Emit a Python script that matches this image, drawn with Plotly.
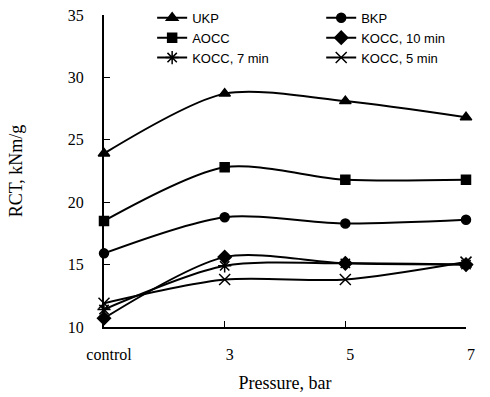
import plotly.graph_objects as go

categories = ["control", "3", "5", "7"]
ukp = [23.9, 28.7, 28.1, 26.8]
bkp = [15.9, 18.8, 18.3, 18.6]
aocc = [18.5, 22.8, 21.8, 21.8]
kocc10 = [10.7, 15.6, 15.1, 15.0]
kocc7 = [11.4, 14.9, 15.1, 15.0]
kocc5 = [11.9, 13.8, 13.8, 15.2]

series = [
    ("UKP", ukp, "triangle-up", 10, "legend"),
    ("BKP", bkp, "circle", 9, "legend2"),
    ("AOCC", aocc, "square", 9, "legend"),
    ("KOCC, 10 min", kocc10, "diamond", 10, "legend2"),
    ("KOCC, 7 min", kocc7, "asterisk-open", 11, "legend"),
    ("KOCC, 5 min", kocc5, "x-thin-open", 11, "legend2"),
]

xpos = list(range(len(categories)))
fig = go.Figure()
for name, vals, sym, sz, lg in series:
    fig.add_trace(go.Scatter(
        x=xpos, y=vals, name=name, mode="lines+markers",
        line=dict(color="black", width=2, shape="spline", smoothing=0.8),
        marker=dict(symbol=sym, size=sz, color="black", line=dict(color="black", width=1.5)),
        cliponaxis=False, legend=lg,
    ))

serif = "Liberation Serif, Times New Roman, serif"
sans = "Liberation Sans, Arial, sans-serif"
fig.update_layout(
    width=490, height=397,
    margin=dict(l=104, r=24, t=15, b=70, autoexpand=False),
    paper_bgcolor="white", plot_bgcolor="white",
    font=dict(family=serif, size=16, color="black"),
    legend=dict(x=0.133, y=1.039, xanchor="left", yanchor="top", bgcolor="rgba(0,0,0,0)",
                font=dict(family=sans, size=13), tracegroupgap=0, itemwidth=30),
    legend2=dict(x=0.60, y=1.039, xanchor="left", yanchor="top", bgcolor="rgba(0,0,0,0)",
                 font=dict(family=sans, size=13), tracegroupgap=0, itemwidth=30),
    xaxis=dict(range=[0, 3], tickmode="array", tickvals=xpos, ticktext=categories,
               showline=True, linecolor="black", linewidth=2, ticks="inside", ticklen=6,
               tickcolor="black", showgrid=False, zeroline=False, ticklabelstandoff=12,
               ticklabelshift=5, automargin=False,
               title=dict(text="Pressure, bar", font=dict(family=serif, size=18), standoff=14)),
    yaxis=dict(range=[10, 35], tickvals=[10, 15, 20, 25, 30, 35],
               showline=True, linecolor="black", linewidth=2, ticks="inside", ticklen=6,
               tickcolor="black", showgrid=False, zeroline=False, ticklabelstandoff=15,
               automargin=False,
               title=dict(text="RCT, kNm/g", font=dict(family=serif, size=18), standoff=40)),
)
fig.write_html("out.html", config={"displayModeBar": False},
               post_script="document.body.style.margin='0';")
